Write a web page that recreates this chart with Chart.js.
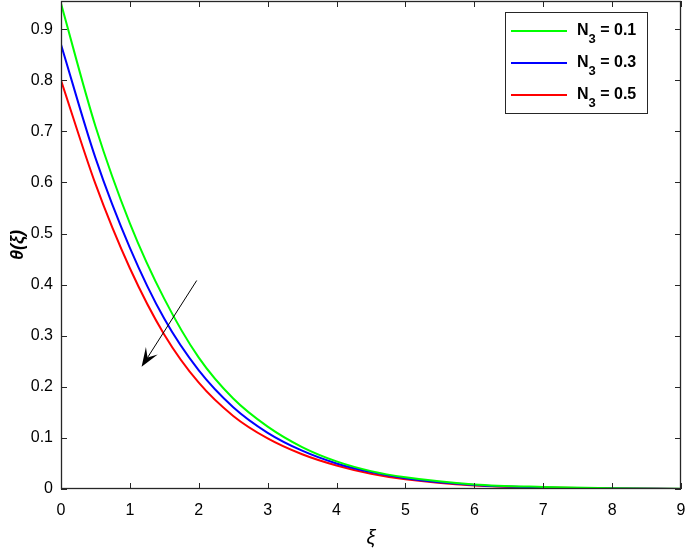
<!DOCTYPE html>
<html lang="en">

<head>
    <meta charset="UTF-8">
    <script src="https://cdn.jsdelivr.net/npm/chart.js@4.4.3/dist/chart.umd.min.js"></script>
    <style>
        html, body {
            margin: 0;
            padding: 0;
            background: #fff;
        }

        #wrap {
            width: 685px;
            height: 550px;
        }
    </style>
</head>

<body>
    <div id="wrap"><canvas></canvas></div>

    <script>
        const xi = [0, 0.5, 1, 1.5, 2, 2.5, 3, 3.5, 4, 4.5, 5, 6, 7, 8, 9];
        const theta_N01 = [0.95, 0.71, 0.52, 0.372, 0.257, 0.177, 0.122, 0.082, 0.054, 0.035, 0.023, 0.009, 0.004, 0.0015, 0.0003];
        const theta_N03 = [0.87, 0.648, 0.472, 0.333, 0.232, 0.16, 0.11, 0.075, 0.05, 0.033, 0.021, 0.008, 0.003, 0.001, 0.0002];
        const theta_N05 = [0.80, 0.597, 0.432, 0.302, 0.208, 0.143, 0.099, 0.068, 0.046, 0.03, 0.019, 0.007, 0.003, 0.001, 0.0001];

        const series_labels = ["0.1", "0.3", "0.5"];
        const series_colors = ["#00ff00", "#0000ff", "#ff0000"];
        const series_values = [theta_N01, theta_N03, theta_N05];

        const x_ticks = [0, 1, 2, 3, 4, 5, 6, 7, 8, 9];
        const y_ticks = [0, 0.1, 0.2, 0.3, 0.4, 0.5, 0.6, 0.7, 0.8, 0.9];

        // arrow: from (xi, theta) to (xi, theta)
        const arrow_from = [1.97, 0.408];
        const arrow_to = [1.17, 0.239];

        const axis_color = "#262626";
        const font_family = "'Liberation Sans', Arial, sans-serif";

        // no extra room for half tick labels, the axes fill the canvas like the original
        function no_label_padding(scale) {
            scale.paddingTop = 0;
            scale.paddingBottom = 0;
            scale.paddingLeft = 0;
            scale.paddingRight = 0;
        }

        // box round the axes with inward ticks, like the original
        const box_plugin = {
            id: "box",
            afterDatasetsDraw(chart) {
                const { ctx, chartArea: a, scales: { x, y } } = chart;
                const tl = 6;
                ctx.save();
                ctx.strokeStyle = axis_color;
                ctx.lineWidth = 1;
                ctx.beginPath();
                for (const t of x_ticks) {
                    const px = Math.round(x.getPixelForValue(t)) + 0.5;
                    ctx.moveTo(px, a.bottom); ctx.lineTo(px, a.bottom - tl);
                    ctx.moveTo(px, a.top); ctx.lineTo(px, a.top + tl);
                }
                for (const t of y_ticks) {
                    const py = Math.round(y.getPixelForValue(t)) + 0.5;
                    ctx.moveTo(a.left, py); ctx.lineTo(a.left + tl, py);
                    ctx.moveTo(a.right, py); ctx.lineTo(a.right - tl, py);
                }
                ctx.stroke();
                ctx.lineWidth = 1.3;
                ctx.strokeRect(a.left + 0.5, a.top + 0.5, a.right - a.left - 1, a.bottom - a.top - 1);

                // arrow
                const x0 = x.getPixelForValue(arrow_from[0]), y0 = y.getPixelForValue(arrow_from[1]);
                const x1 = x.getPixelForValue(arrow_to[0]), y1 = y.getPixelForValue(arrow_to[1]);
                const ang = Math.atan2(y1 - y0, x1 - x0);
                const L = 19, W = 7, notch = 11;
                const bx = x1 - notch * Math.cos(ang), by = y1 - notch * Math.sin(ang);
                ctx.strokeStyle = "#000";
                ctx.lineWidth = 1;
                ctx.beginPath();
                ctx.moveTo(x0, y0);
                ctx.lineTo(bx, by);
                ctx.stroke();
                const hx = x1 - L * Math.cos(ang), hy = y1 - L * Math.sin(ang);
                ctx.fillStyle = "#000";
                ctx.beginPath();
                ctx.moveTo(x1, y1);
                ctx.lineTo(hx + W * Math.sin(ang), hy - W * Math.cos(ang));
                ctx.lineTo(bx, by);
                ctx.lineTo(hx - W * Math.sin(ang), hy + W * Math.cos(ang));
                ctx.closePath();
                ctx.fill();
                ctx.restore();
            }
        };

        // legend with subscripted N_3
        const legend_plugin = {
            id: "subLegend",
            afterDraw(chart) {
                const { ctx, chartArea: a } = chart;
                const left = a.right - 176, top = a.top + 11;
                const w = 142, h = 101;
                ctx.save();
                ctx.fillStyle = "#fff";
                ctx.fillRect(left, top, w, h);
                ctx.strokeStyle = axis_color;
                ctx.lineWidth = 1;
                ctx.strokeRect(left + 0.5, top + 0.5, w, h);
                series_labels.forEach((lab, i) => {
                    const cy = top + 19 + i * 32;
                    ctx.strokeStyle = series_colors[i];
                    ctx.lineWidth = 2;
                    ctx.beginPath();
                    ctx.moveTo(left + 6, cy);
                    ctx.lineTo(left + 62, cy);
                    ctx.stroke();
                    ctx.fillStyle = "#000";
                    ctx.textBaseline = "alphabetic";
                    ctx.font = "bold 16px " + font_family;
                    let tx = left + 72;
                    ctx.fillText("N", tx, cy + 4);
                    tx += ctx.measureText("N").width;
                    ctx.font = "bold 13px " + font_family;
                    ctx.fillText("3", tx, cy + 12);
                    tx += ctx.measureText("3").width;
                    ctx.font = "bold 16px " + font_family;
                    ctx.fillText(" = " + lab, tx, cy + 4);
                });
                ctx.restore();
            }
        };

        const ctx = document.querySelector("canvas");
        const chartjs = new Chart(ctx, {
            type: "line",
            data: {
                datasets: series_values.map((vals, i) => ({
                    label: "N3 = " + series_labels[i],
                    data: xi.map((v, j) => ({ x: v, y: vals[j] })),
                    borderColor: series_colors[i],
                    backgroundColor: series_colors[i],
                    borderWidth: 2,
                    pointRadius: 0,
                    cubicInterpolationMode: "monotone",
                    fill: false
                }))
            },
            options: {
                responsive: true,
                maintainAspectRatio: false,
                animation: false,
                layout: {
                    padding: { top: 1, right: 4, left: 0, bottom: 0 }
                },
                plugins: {
                    legend: { display: false },
                    tooltip: { enabled: false }
                },
                scales: {
                    x: {
                        type: "linear",
                        min: 0,
                        max: 9,
                        afterFit: scale => { scale.height = 61; no_label_padding(scale); },
                        afterBuildTicks: scale => { scale.ticks = x_ticks.map(v => ({ value: v })); },
                        grid: { display: false, drawTicks: false },
                        border: { display: false },
                        ticks: {
                            padding: 12,
                            color: "#000",
                            font: { family: font_family, size: 16 },
                            maxRotation: 0
                        },
                        title: {
                            display: true,
                            text: "ξ",
                            color: "#000",
                            font: { family: font_family, size: 20, style: "italic" },
                            padding: { top: 0, bottom: 0 }
                        }
                    },
                    y: {
                        type: "linear",
                        min: 0,
                        max: 0.955,
                        afterFit: scale => { scale.width = 61; no_label_padding(scale); },
                        afterBuildTicks: scale => { scale.ticks = y_ticks.map(v => ({ value: v })); },
                        grid: { display: false, drawTicks: false },
                        border: { display: false },
                        ticks: {
                            padding: 8,
                            color: "#000",
                            font: { family: font_family, size: 16 },
                            callback: v => (v === 0 ? "0" : v.toFixed(1))
                        },
                        title: {
                            display: true,
                            text: "θ(ξ)",
                            color: "#000",
                            font: { family: font_family, size: 18, style: "italic", weight: "bold" },
                            padding: { top: 7, bottom: 0 }
                        }
                    }
                }
            },
            plugins: [box_plugin, legend_plugin]
        });
    </script>
</body>

</html>
